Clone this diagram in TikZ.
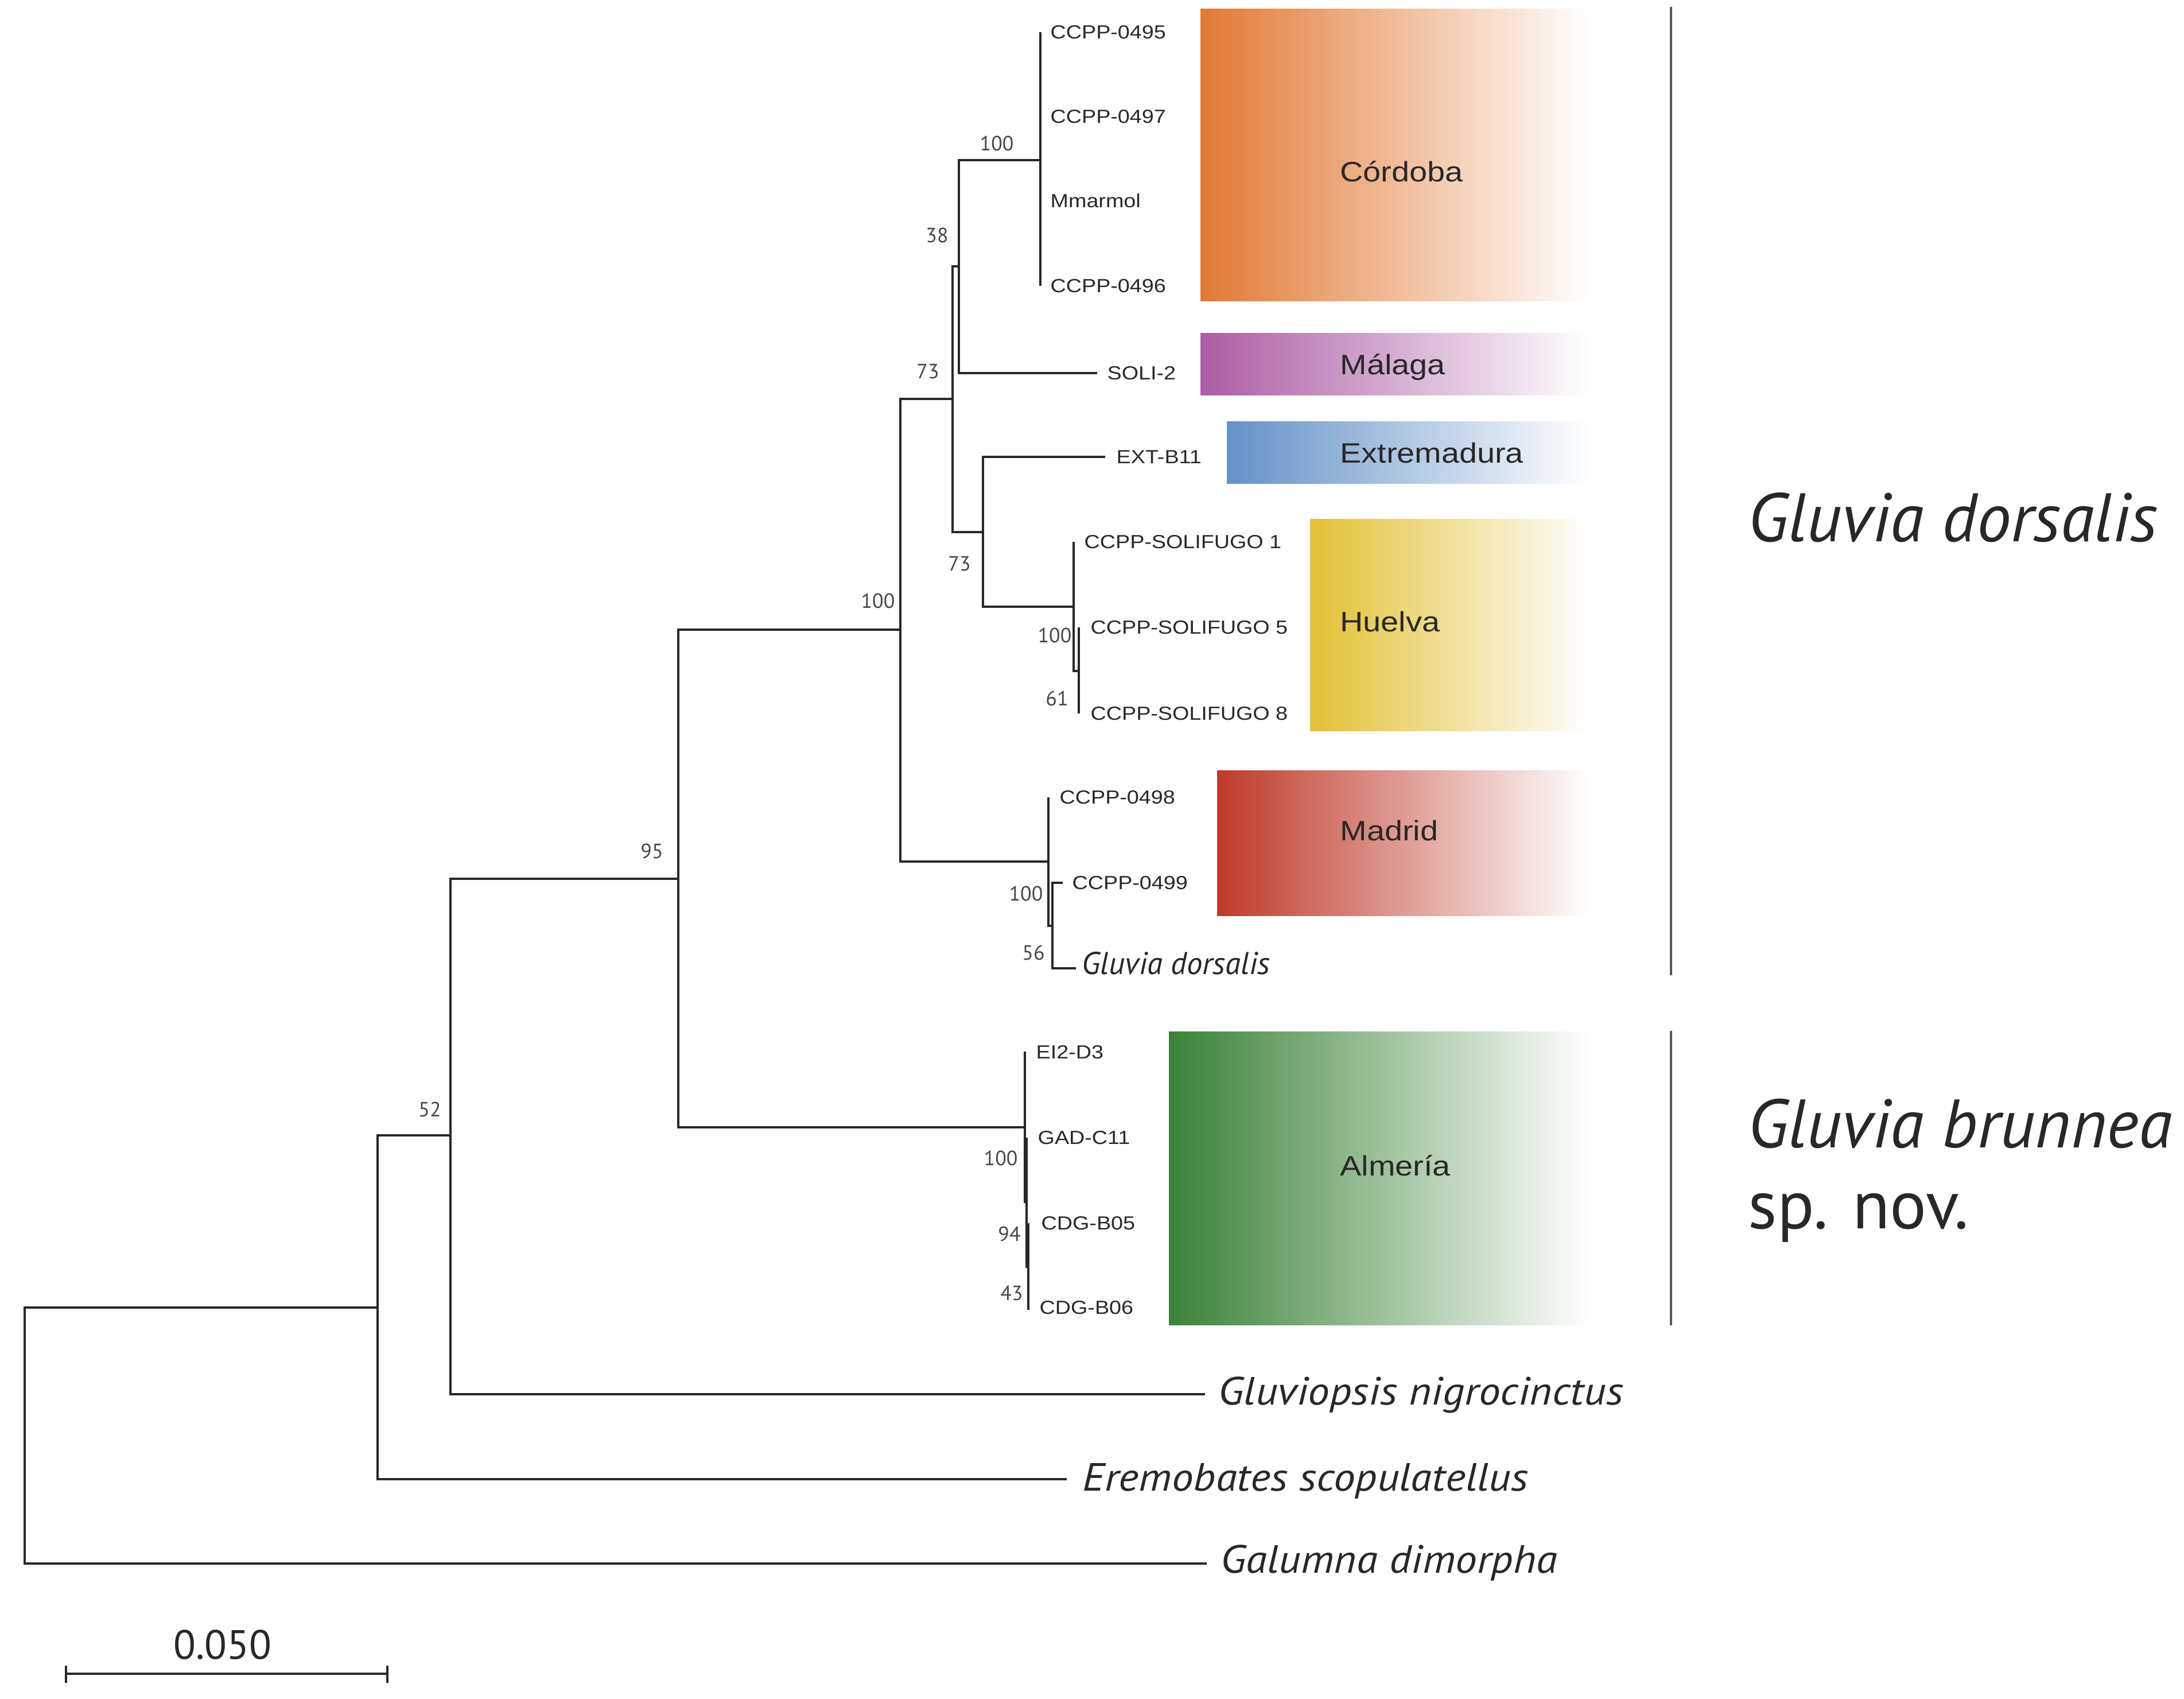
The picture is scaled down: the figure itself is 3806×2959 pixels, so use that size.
\documentclass[tikz,border=0pt]{standalone}
\usepackage{fontspec}
\newfontfamily\arialx{Liberation Sans}[FakeStretch=1.14]
\newfontfamily\myriad{PT Sans}
\newfontfamily\myriadw{PT Sans}[FakeStretch=1.1]
\definecolor{cor}{RGB}{226,121,52}
\definecolor{mal}{RGB}{172,92,164}
\definecolor{ext}{RGB}{100,145,200}
\definecolor{hue}{RGB}{226,192,52}
\definecolor{mad}{RGB}{190,58,42}
\definecolor{madmid}{RGB}{226,150,120}
\definecolor{alm}{RGB}{58,130,55}
\definecolor{ink}{RGB}{40,40,40}
\tikzset{
  branch/.style={line width=1pt, draw=ink},
  bar/.style={line width=1pt, draw=black!65},
  leaf/.style={anchor=west, inner sep=0pt, text=ink, font=\arialx\fontsize{9.4pt}{11pt}\selectfont},
  boot/.style={inner sep=0pt, text=black!72, font=\myriad\fontsize{10.2pt}{12pt}\selectfont},
  itleaf/.style={anchor=base west, inner sep=0pt, text=ink, font=\myriad\itshape\fontsize{15.6pt}{18pt}\selectfont},
  outleaf/.style={anchor=base west, inner sep=0pt, text=ink, font=\myriadw\itshape\fontsize{19.5pt}{22pt}\selectfont},
  region/.style={anchor=base west, inner sep=0pt, text=ink, font=\arialx\fontsize{13.9pt}{16pt}\selectfont},
  species/.style={anchor=base west, inner sep=0pt, text=ink, font=\myriad\fontsize{34pt}{40pt}\selectfont},
  speciesit/.style={species, font=\myriad\itshape\fontsize{34pt}{40pt}\selectfont},
  scalelab/.style={inner sep=0pt, text=ink, font=\myriad\fontsize{20.3pt}{24pt}\selectfont}
}
\begin{document}
\begin{tikzpicture}[x=0.01cm, y=-0.01cm]
\useasboundingbox[fill=white] (0,0) rectangle (3806,2959);

% ---------- coloured region boxes ----------
\shade[left color=cor, middle color=cor!55!white, right color=white] (2092,15) rectangle (2770,524);
\shade[left color=mal, middle color=mal!55!white, right color=white] (2092,580) rectangle (2770,688);
\shade[left color=ext, middle color=ext!55!white, right color=white] (2138,734) rectangle (2770,842);
\shade[left color=hue, middle color=hue!55!white, right color=white] (2283,904) rectangle (2770,1273);
\shade[left color=mad, middle color=madmid, right color=white] (2121,1342) rectangle (2770,1595);
\shade[left color=alm, middle color=alm!55!white, right color=white] (2037,1797) rectangle (2770,2308);

\node[region] (rCor) at (2335,316) {Córdoba};
\node[region] (rMal) at (2335,652) {Málaga};
\node[region] (rExt) at (2335,806) {Extremadura};
\node[region] (rHue) at (2335,1100) {Huelva};
\node[region] (rMad) at (2335,1464) {Madrid};
\node[region] (rAlm) at (2335,2048) {Almería};

% ---------- tree coordinates ----------
\coordinate (R) at (43,2501);
\coordinate (N1) at (658,2278);
\coordinate (N52) at (785,1978);
\coordinate (galE) at (2103,2724);
\coordinate (ereE) at (1859,2577);
\coordinate (gluE) at (2100,2429);
\coordinate (N95) at (1182,1531);
\coordinate (N100a) at (1569,1097);
\coordinate (NAlm) at (1786,1964);
\coordinate (N73a) at (1660,695);
\coordinate (NMad) at (1827,1501);
\coordinate (N38) at (1671,464);
\coordinate (N73b) at (1713,927);
\coordinate (NCor) at (1813,279);
\coordinate (soliE) at (1912,650);
\coordinate (c95) at (1813,56);
\coordinate (c97) at (1813,203);
\coordinate (cmm) at (1813,350);
\coordinate (c96) at (1813,498);
\coordinate (extE) at (1926,796);
\coordinate (NHue) at (1871,1057);
\coordinate (s1) at (1871,944);
\coordinate (NHue2) at (1880,1169);
\coordinate (s5) at (1880,1093);
\coordinate (s8) at (1880,1243);
\coordinate (c98) at (1827,1389);
\coordinate (NMad2) at (1834,1613);
\coordinate (c99E) at (1852,1538);
\coordinate (gdE) at (1875,1687);
\coordinate (ei) at (1786,1832);
\coordinate (NAlm2) at (1789,2094);
\coordinate (gad) at (1789,1982);
\coordinate (NAlm3) at (1792,2207);
\coordinate (b05) at (1792,2131);
\coordinate (b06) at (1792,2282);

% ---------- branches ----------
\draw[branch]
  (R) |- (N1) (R) |- (galE)
  (N1) |- (N52) (N1) |- (ereE)
  (N52) |- (N95) (N52) |- (gluE)
  (N95) |- (N100a) (N95) |- (NAlm)
  (N100a) |- (N73a) (N100a) |- (NMad)
  (N73a) |- (N38) (N73a) |- (N73b)
  (N38) |- (NCor) (N38) |- (soliE)
  (NCor) |- (c95) (NCor) |- (c97) (NCor) |- (cmm) (NCor) |- (c96)
  (N73b) |- (extE) (N73b) |- (NHue)
  (NHue) |- (s1) (NHue) |- (NHue2)
  (NHue2) |- (s5) (NHue2) |- (s8)
  (NMad) |- (c98) (NMad) |- (NMad2)
  (NMad2) |- (c99E) (NMad2) |- (gdE)
  (NAlm) |- (ei) (NAlm) |- (NAlm2)
  (NAlm2) |- (gad) (NAlm2) |- (NAlm3)
  (NAlm3) |- (b05) (NAlm3) |- (b06);

% ---------- leaf labels ----------
\node[leaf] (t95) at (1830,56) {CCPP-0495};
\node[leaf] (t97) at (1830,203) {CCPP-0497};
\node[leaf] (tmm) at (1830,350) {Mmarmol};
\node[leaf] (t96) at (1830,498) {CCPP-0496};
\node[leaf] (tsoli) at (1929,650) {SOLI-2};
\node[leaf] (text) at (1945,796) {EXT-B11};
\node[leaf] (ts1) at (1889,944) {CCPP-SOLIFUGO 1};
\node[leaf] (ts5) at (1900,1093) {CCPP-SOLIFUGO 5};
\node[leaf] (ts8) at (1900,1243) {CCPP-SOLIFUGO 8};
\node[leaf] (t98) at (1846,1389) {CCPP-0498};
\node[leaf] (t99) at (1868,1538) {CCPP-0499};
\node[itleaf] (tgd) at (1885,1697) {Gluvia dorsalis};
\node[leaf] (tei) at (1805,1833) {EI2-D3};
\node[leaf] (tgad) at (1808,1982) {GAD-C11};
\node[leaf] (tb05) at (1814,2131) {CDG-B05};
\node[leaf] (tb06) at (1811,2278) {CDG-B06};
\node[outleaf] (tglu) at (2123,2447) {Gluviopsis nigrocinctus};
\node[outleaf] (tere) at (1886,2597) {Eremobates scopulatellus};
\node[outleaf] (tgal) at (2127,2740) {Galumna dimorpha};

% ---------- bootstrap values ----------
\node[boot] (bs1) at (1737,250) {100};
\node[boot] (bs2) at (1633,410) {38};
\node[boot] (bs3) at (1617,647) {73};
\node[boot] (bs4) at (1672,982) {73};
\node[boot] (bs5) at (1530,1047) {100};
\node[boot] (bs6) at (1838,1107) {100};
\node[boot] (bs7) at (1842,1217) {61};
\node[boot] (bs8) at (1788,1557) {100};
\node[boot] (bs9) at (1801,1660) {56};
\node[boot] (bs10) at (1136,1483) {95};
\node[boot] (bs11) at (1744,2018) {100};
\node[boot] (bs12) at (1759,2150) {94};
\node[boot] (bs13) at (1763,2253) {43};
\node[boot] (bs14) at (749,1933) {52};

% ---------- species brackets ----------
\coordinate (v1t) at (2912,12);
\coordinate (v1b) at (2912,1699);
\coordinate (v2t) at (2912,1796);
\coordinate (v2b) at (2912,2309);
\draw[bar] (v1t) -- (v1b);
\draw[bar] (v2t) -- (v2b);
\node[speciesit] (spd) at (3046,943) {Gluvia dorsalis};
\node[speciesit] (spb) at (3046,1999) {Gluvia brunnea};
\node[species] (spn) at (3046,2140) {sp. nov.};

% ---------- scale bar ----------
\coordinate (sb1) at (115,2916);
\coordinate (sb2) at (675,2916);
\coordinate (sb1t) at (115,2902);
\coordinate (sb1b) at (115,2932);
\coordinate (sb2t) at (675,2902);
\coordinate (sb2b) at (675,2932);
\draw[branch] (sb1) -- (sb2);
\draw[branch] (sb1t) -- (sb1b);
\draw[branch] (sb2t) -- (sb2b);
\node[scalelab] (sbl) at (388,2865) {0.050};
\end{tikzpicture}
\end{document}
